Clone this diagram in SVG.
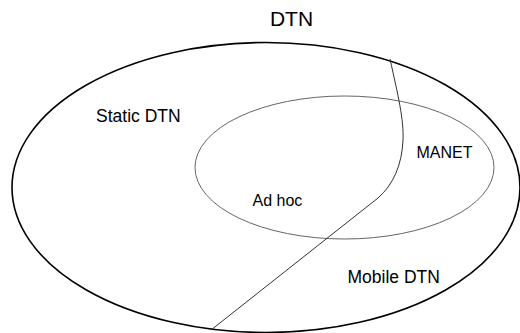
<svg xmlns="http://www.w3.org/2000/svg" width="520" height="333" viewBox="0 0 520 333">
<style>
text{font-family:"Liberation Sans",Arial,sans-serif;fill:#000}
.outer{fill:none;stroke:#000;stroke-width:1.6}
.inner{fill:none;stroke:#666;stroke-width:1}
.div{fill:none;stroke:#333;stroke-width:1}
</style>
<rect width="520" height="333" fill="#fff"/>
<text x="291.5" y="26" font-size="21" text-anchor="middle">DTN</text>
<g id="dtn">
<ellipse class="outer" cx="266" cy="187.5" rx="254" ry="145"/>
</g>
<g id="manet">
<ellipse class="inner" cx="344.5" cy="167.5" rx="149.5" ry="71.5"/>
</g>
<g id="connectors">
<path class="div" d="M390,59 C398,95 404,120 403,140 C402,165 393,185 378,198 L211,330"/>
</g>
<g id="labels">
<text x="96" y="122" font-size="17.5">Static DTN</text>
<text x="416.5" y="158" font-size="16">MANET</text>
<text x="252.5" y="206" font-size="16">Ad hoc</text>
<text x="347.5" y="283" font-size="17.5">Mobile DTN</text>
</g>
</svg>
